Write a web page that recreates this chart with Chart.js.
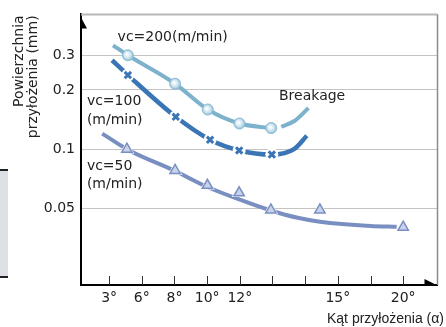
<!DOCTYPE html>
<html>
<head>
<meta charset="utf-8">
<script src="https://cdn.jsdelivr.net/npm/chart.js@4.4.1/dist/chart.umd.min.js"></script>
<style>
  html, body { margin: 0; padding: 0; background: #fff; }
  #wrap { width: 446px; height: 327px; position: relative; }
</style>
</head>
<body>
<div id="wrap"><canvas id="chart"></canvas></div>
<script>
const tickLabels = ["3°", "6°", "8°", "10°", "12°", "", "", "15°", "", "20°"];
const yTicks = [0.05, 0.1, 0.2, 0.3];

// vc=200 (circles)
const v200LineX = [0.12, 0.575, 2.02, 3.02, 3.99, 4.96];
const v200LineY = [0.337, 0.3, 0.215, 0.159, 0.135, 0.128];
const v200PtX = [0.575, 2.02, 3.02, 3.99, 4.96];
const v200PtY = [0.3, 0.215, 0.159, 0.135, 0.128];
const breakX = [5.27, 5.67, 6.1];
const breakY = [0.13, 0.139, 0.162];

// vc=100 (crosses)
const v100LineX = [0.09, 0.575, 2.04, 3.09, 3.98, 4.98, 5.67, 6.05];
const v100LineY = [0.283, 0.238, 0.146, 0.1116, 0.0985, 0.0939, 0.1003, 0.117];
const v100PtX = [0.575, 2.04, 3.09, 3.98, 4.98];
const v100PtY = [0.238, 0.146, 0.1116, 0.0985, 0.0939];

// vc=50 (triangles)
const v50LineX = [-0.21, 0.545, 2.02, 3.01, 3.96, 4.95, 5.77, 6.45, 8.0, 8.8];
const v50LineY = [0.12, 0.1, 0.0774, 0.0642, 0.0557, 0.0488, 0.0448, 0.0428, 0.0407, 0.0403];
const v50PtX = [0.545, 2.02, 3.01, 3.98, 4.95, 6.45, 9.0];
const v50PtY = [0.1, 0.0779, 0.0655, 0.06, 0.0491, 0.0491, 0.0401];

// text labels inside the plot, placed in data units
const noteText = ["vc=200(m/min)", "Breakage", "vc=100", "(m/min)", "vc=50", "(m/min)"];
const noteX = [0.26, 5.2, -0.68, -0.68, -0.68, -0.68];
const noteY = [0.372, 0.1847, 0.1753, 0.1405, 0.0813, 0.0661];

const c200 = "#7db2cd";
const c100 = "#3a76b6";
const c50 = "#7a8fc1";

const pts = (xs, ys) => xs.map((x, i) => ({ x: x, y: ys[i] }));

function ballFill(ctx) {
  if (!ctx.raw) return "#cfe5ef";
  const ch = ctx.chart;
  const px = ch.scales.x.getPixelForValue(ctx.raw.x);
  const py = ch.scales.y.getPixelForValue(ctx.raw.y);
  if (!isFinite(px) || !isFinite(py)) return "#cfe5ef";
  const g = ch.ctx.createRadialGradient(px - 1.2, py - 1.2, 0.4, px, py, 5.8);
  g.addColorStop(0, "#ffffff");
  g.addColorStop(0.55, "#cfe5f0");
  g.addColorStop(1, "#86b9d2");
  return g;
}

const decor = {
  id: "decor",
  beforeDraw(chart) {
    const c = chart.ctx;
    c.save();
    c.fillStyle = "#dde1e6";
    c.fillRect(0, 170, 8, 107);
    c.fillStyle = "#222";
    c.fillRect(0, 169, 8, 2);
    c.fillRect(0, 276, 8, 2);
    c.restore();
  },
  afterDatasetsDraw(chart) {
    const c = chart.ctx;
    const sx = chart.scales.x, sy = chart.scales.y;
    c.save();
    c.font = "14px 'DejaVu Sans'";
    c.fillStyle = "#222";
    c.textAlign = "left";
    c.textBaseline = "middle";
    noteText.forEach((t, i) => {
      c.fillText(t, sx.getPixelForValue(noteX[i]), sy.getPixelForValue(noteY[i]));
    });
    c.restore();
  },
  afterDraw(chart) {
    const c = chart.ctx;
    const a = chart.chartArea;
    const sx = chart.scales.x;
    c.save();
    // frame top / right
    c.strokeStyle = "#b8b8b8";
    c.lineWidth = 2;
    c.beginPath();
    c.moveTo(a.left, a.top);
    c.lineTo(a.right, a.top);
    c.stroke();
    c.strokeStyle = "#8a8a8a";
    c.lineWidth = 1.5;
    c.beginPath();
    c.moveTo(a.right, a.top);
    c.lineTo(a.right, a.bottom);
    c.stroke();
    // inner ticks on x axis
    c.strokeStyle = "#333";
    c.lineWidth = 1;
    sx.ticks.forEach((t) => {
      const px = Math.round(sx.getPixelForValue(t.value)) + 0.5;
      c.beginPath();
      c.moveTo(px, a.bottom - 9);
      c.lineTo(px, a.bottom);
      c.stroke();
    });
    // arrow heads
    c.fillStyle = "#000";
    c.beginPath();
    c.moveTo(a.left - 1, a.top + 1);
    c.lineTo(a.left + 6, a.top + 14);
    c.lineTo(a.left - 1, a.top + 14);
    c.closePath();
    c.fill();
    c.beginPath();
    c.moveTo(a.right - 13, a.bottom - 6);
    c.lineTo(a.right + 1, a.bottom + 1);
    c.lineTo(a.right - 13, a.bottom + 1);
    c.closePath();
    c.fill();
    // axis titles
    c.fillStyle = "#222";
    c.font = "14px 'DejaVu Sans'";
    c.textBaseline = "middle";
    c.textAlign = "right";
    [["Powierzchnia", 19], ["przyłożenia (mm)", 33]].forEach(([t, x]) => {
      c.save();
      c.translate(x, a.top + 1);
      c.rotate(-Math.PI / 2);
      c.fillText(t, 0, 0);
      c.restore();
    });
    c.font = "14px 'Liberation Sans'";
    c.textAlign = "right";
    c.fillText("Kąt przyłożenia (α)", 444, 319);
    c.restore();
  },
};

const lineBase = {
  pointRadius: 0,
  borderWidth: 4,
  cubicInterpolationMode: "monotone",
  fill: false,
  order: 2,
};

new Chart(document.getElementById("chart"), {
  type: "line",
  data: {
    datasets: [
      {
        data: pts(v200PtX, v200PtY),
        showLine: false,
        pointStyle: "circle",
        pointRadius: 5.5,
        pointBackgroundColor: ballFill,
        pointBorderColor: "#8bbbd3",
        pointBorderWidth: 1,
        order: 0,
      },
      {
        data: pts(v100PtX, v100PtY),
        showLine: false,
        pointStyle: "crossRot",
        pointRadius: 4.5,
        pointBorderColor: c100,
        pointBorderWidth: 3,
        order: 0,
      },
      {
        data: pts(v50PtX, v50PtY),
        showLine: false,
        pointStyle: "triangle",
        pointRadius: 6,
        pointBackgroundColor: "#c8d2ea",
        pointBorderColor: c50,
        pointBorderWidth: 1.5,
        order: 0,
      },
      // white halos that break the lines around the markers
      {
        data: pts(v100PtX, v100PtY),
        showLine: false,
        pointRadius: 6.5,
        pointBackgroundColor: "#fff",
        pointBorderWidth: 0,
        order: 1,
      },
      {
        data: pts(v50PtX, v50PtY),
        showLine: false,
        pointStyle: "triangle",
        pointRadius: 8.5,
        pointBackgroundColor: "#fff",
        pointBorderWidth: 0,
        order: 1,
      },
      Object.assign({ data: pts(v200LineX, v200LineY), borderColor: c200 }, lineBase),
      Object.assign({ data: pts(breakX, breakY), borderColor: c200 }, lineBase),
      Object.assign({ data: pts(v100LineX, v100LineY), borderColor: c100 }, lineBase, { borderWidth: 4.5 }),
      Object.assign({ data: pts(v50LineX, v50LineY), borderColor: c50 }, lineBase),
    ],
  },
  options: {
    responsive: true,
    maintainAspectRatio: false,
    animation: false,
    events: [],
    layout: { padding: { left: 0, top: 10, right: 5, bottom: 0 } },
    plugins: { legend: { display: false }, tooltip: { enabled: false } },
    scales: {
      x: {
        type: "linear",
        min: -0.86,
        max: 10.05,
        afterBuildTicks: (s) => {
          s.ticks = tickLabels.map((_, i) => ({ value: i }));
        },
        afterFit: (s) => {
          s.height = 42;
        },
        ticks: {
          autoSkip: false,
          maxRotation: 0,
          padding: 5,
          color: "#222",
          font: { family: "DejaVu Sans", size: 14 },
          callback: (v) => tickLabels[v],
        },
        grid: { display: false, drawTicks: false },
        border: { display: true, color: "#000", width: 2 },
      },
      y: {
        type: "logarithmic",
        min: 0.0204,
        max: 0.484,
        afterBuildTicks: (s) => {
          s.ticks = yTicks.map((v) => ({ value: v }));
        },
        afterFit: (s) => {
          s.width = 81;
        },
        ticks: {
          padding: 6,
          color: "#222",
          font: { family: "DejaVu Sans", size: 14 },
          callback: (v) => String(v),
        },
        grid: { color: "#c4c4c4", lineWidth: 1, drawTicks: false },
        border: { display: true, color: "#000", width: 2 },
      },
    },
  },
  plugins: [decor],
});
</script>
</body>
</html>
